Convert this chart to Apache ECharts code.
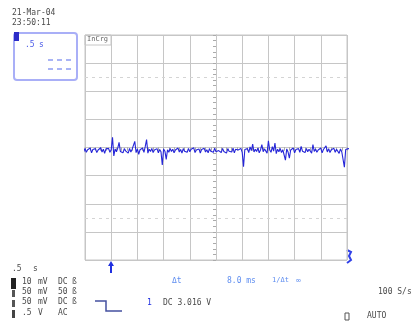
<!DOCTYPE html>
<html>
<head>
<meta charset="utf-8">
<script src="https://cdn.jsdelivr.net/npm/echarts@6/dist/echarts.min.js"></script>
<style>
  html, body { margin: 0; padding: 0; background: #fff; }
  #scope { width: 417px; height: 322px; }
</style>
</head>
<body>
<div id="scope"></div>
<script>
// screen is 10 x 8 divisions, centre at 0
var xDivs = [-5, 5];
var yDivs = [-4, 4];
var refLevels = [2.5, -2.5]; // dotted cursor lines

// sampled trace, volts in divisions (start time and sample step in div)
var t0 = -5.1;
var dt = 0.05;
var trace = [
  -0.06, -0.15, -0.03, -0.17, -0.08, -0.12, -0.02, -0.19, -0.07, -0.14,
  -0.04, -0.18, -0.09, -0.13, -0.01, -0.16, -0.06, -0.21, -0.05, -0.12,
  -0.03, -0.17, -0.08, 0.36, -0.30, -0.05, -0.15, -0.02, 0.18, -0.14,
  -0.07, -0.19, -0.04, -0.12, -0.09, -0.20, -0.03, -0.16, -0.06, -0.13,
  0.22, -0.18, -0.05, -0.24, -0.08, -0.11, -0.02, -0.17, 0.04, 0.28,
  -0.20, -0.06, -0.14, -0.03, -0.18, -0.09, -0.12, -0.04, -0.19, -0.07,
  -0.15, -0.62, -0.05, -0.13, -0.42, -0.08, -0.17, -0.03, -0.14, -0.06,
  -0.19, -0.09, -0.12, -0.02, -0.16, -0.07, -0.20, -0.04, -0.13, -0.08,
  -0.17, -0.03, -0.15, -0.06, -0.11, -0.01, -0.18, -0.09, -0.14, -0.05,
  -0.20, -0.07, -0.12, -0.03, -0.16, -0.08, -0.19, -0.04, -0.13, -0.06,
  -0.17, -0.02, -0.15, -0.09, -0.11, -0.05, -0.18, -0.03, -0.14, -0.07,
  -0.20, -0.04, -0.13, -0.08, -0.16, -0.02, -0.19, -0.06, -0.12, -0.09,
  -0.15, -0.03, -0.17, -0.68, -0.07, -0.13, -0.04, -0.18, 0.02, -0.11,
  0.12, -0.16, -0.06, -0.14, -0.02, -0.19, -0.08, 0.10, -0.15, -0.05,
  -0.12, -0.20, 0.24, -0.09, -0.17, 0.03, -0.13, 0.16, -0.22, -0.06,
  -0.15, -0.03, -0.18, -0.08, -0.12, -0.45, -0.05, -0.16, -0.38, -0.09,
  -0.14, -0.02, -0.19, -0.07, -0.11, -0.04, -0.17, 0.04, -0.13, -0.08,
  -0.18, -0.03, -0.15, -0.06, -0.12, -0.20, 0.10, -0.14, -0.05, -0.17,
  -0.09, -0.13, -0.02, -0.19, -0.07, -0.11, 0.06, -0.16, -0.04, -0.18,
  -0.08, -0.14, -0.03, -0.17, -0.06, -0.12, -0.21, -0.05, -0.15, -0.09,
  -0.70, -0.07, -0.13, -0.04, -0.10, -0.06, -0.08
];

// side panel texts
var dateText = "21-Mar-04";
var timeText = "23:50:11";
var timebase = [".5", "s"];
var channels = [
  ["10", "mV", "DC", "ß"],
  ["50", "mV", "50", "ß"],
  ["50", "mV", "DC", "ß"],
  [".5", "V", "AC", ""]
];

var gridColor = "#c6c6c6";
var traceColor = "#2626d8";
var textColor = "#4a4a4a";
var mono = "DejaVu Sans Mono";

var chart = echarts.init(document.getElementById("scope"), null, { renderer: "canvas" });

//small text helper
function txt(x, y, s, color, size) {
  return {
    type: "text", left: x, top: y, silent: true,
    style: { text: s, fill: color || textColor, font: (size || 8) + "px '" + mono + "'" }
  };
}

var graphics = [
  txt(12, 9, dateText),
  txt(12, 19, timeText),
  // zoom box top left
  { type: "rect", shape: { x: 14, y: 33, width: 63, height: 47, r: 3 },
    style: { fill: "none", stroke: "#a9aff7", lineWidth: 2 } },
  { type: "rect", shape: { x: 14, y: 32, width: 5, height: 9 }, style: { fill: "#2c2cc8" } },
  txt(25, 41, ".5", "#4a5ae8"),
  txt(39, 41, "s", "#4a5ae8"),
  { type: "line", shape: { x1: 48, y1: 60, x2: 74, y2: 60 },
    style: { stroke: "#8d9cf2", lineWidth: 1.5, lineDash: [5, 4] } },
  { type: "line", shape: { x1: 48, y1: 69, x2: 74, y2: 69 },
    style: { stroke: "#8d9cf2", lineWidth: 1.5, lineDash: [5, 4] } },
  // label in first cell
  { type: "rect", shape: { x: 85, y: 35, width: 26, height: 10 },
    style: { fill: "#fff", stroke: gridColor, lineWidth: 1 } },
  txt(87, 36, "InCrg", "#666", 7),
  // timebase
  txt(12, 265, timebase[0]),
  txt(33, 265, timebase[1]),
  // trigger position marker
  { type: "line", shape: { x1: 111, y1: 264, x2: 111, y2: 273 }, style: { stroke: "#2030e0", lineWidth: 2 } },
  { type: "polygon", shape: { points: [[108, 266], [111, 261], [114, 266]] }, style: { fill: "#2030e0" } },
  // trigger level marker right
  { type: "polyline", shape: { points: [[347, 250], [351, 252], [349, 256], [351, 260], [347, 263]] },
    style: { stroke: "#3040e8", lineWidth: 2, fill: "none" } },
  // channel indicators
  { type: "rect", shape: { x: 11, y: 278, width: 5, height: 11 }, style: { fill: "#222" } },
  { type: "rect", shape: { x: 12, y: 290, width: 3, height: 7 }, style: { fill: "#555" } },
  { type: "rect", shape: { x: 12, y: 300, width: 3, height: 7 }, style: { fill: "#555" } },
  { type: "rect", shape: { x: 12, y: 310, width: 3, height: 8 }, style: { fill: "#444" } },
  // slope icon
  { type: "polyline", shape: { points: [[95, 301], [106, 301], [106, 311], [122, 311]] },
    style: { stroke: "#4450a0", lineWidth: 1.5, fill: "none" } },
  txt(147, 299, "1", "#2030e0"),
  txt(163, 299, "DC 3.016 V"),
  txt(172, 277, "\u0394t", "#5f8ef0"),
  txt(227, 277, "8.0 ms", "#5f8ef0"),
  txt(272, 277, "1/\u0394t", "#5f8ef0", 7),
  txt(296, 277, "\u221e", "#5f8ef0"),
  txt(378, 288, "100 S/s"),
  { type: "rect", shape: { x: 345, y: 313, width: 4, height: 7 }, style: { fill: "none", stroke: "#555", lineWidth: 1 } },
  txt(367, 312, "AUTO")
];

var rowsY = [278, 287.5, 298, 309];
channels.forEach(function (row, i) {
  graphics.push(txt(22, rowsY[i], row[0]));
  graphics.push(txt(38, rowsY[i], row[1]));
  graphics.push(txt(58, rowsY[i], row[2]));
  if (row[3]) graphics.push(txt(72, rowsY[i], row[3]));
});

// centre axis with minor ticks, one axis per side of the line
function centreAxis(inside, extent) {
  return {
    type: "value", min: extent[0], max: extent[1], interval: 1,
    axisLine: { show: true, onZero: true, lineStyle: { color: gridColor, width: 1 } },
    axisTick: { show: true, inside: inside, length: 3, lineStyle: { color: "#aaa" } },
    minorTick: { show: true, splitNumber: 5, length: 3, lineStyle: { color: "#aaa" } },
    axisLabel: { show: false },
    splitLine: { show: false }
  };
}

var xMain = centreAxis(false, xDivs);
xMain.splitLine = { show: true, lineStyle: { color: gridColor, width: 1 } };
var yMain = centreAxis(false, yDivs);
yMain.splitLine = { show: true, lineStyle: { color: gridColor, width: 1 } };

chart.setOption({
  backgroundColor: "#ffffff",
  animation: false,
  grid: {
    left: 85, top: 35, width: 262, height: 225,
    show: true, borderColor: gridColor, borderWidth: 1, backgroundColor: "transparent"
  },
  xAxis: [xMain, centreAxis(true, xDivs)],
  yAxis: [yMain, centreAxis(true, yDivs)],
  graphic: graphics,
  series: [
    {
      type: "line",
      xAxisIndex: 0,
      yAxisIndex: 0,
      clip: false,
      showSymbol: false,
      symbol: "none",
      lineStyle: { color: traceColor, width: 1.1 },
      data: trace.map(function (v, i) { return [t0 + i * dt, v]; }),
      markLine: {
        silent: true,
        symbol: "none",
        label: { show: false },
        lineStyle: { color: "#d4d4d4", type: [3, 4], width: 1 },
        data: refLevels.map(function (v) { return { yAxis: v }; })
      }
    }
  ]
});
</script>
</body>
</html>
